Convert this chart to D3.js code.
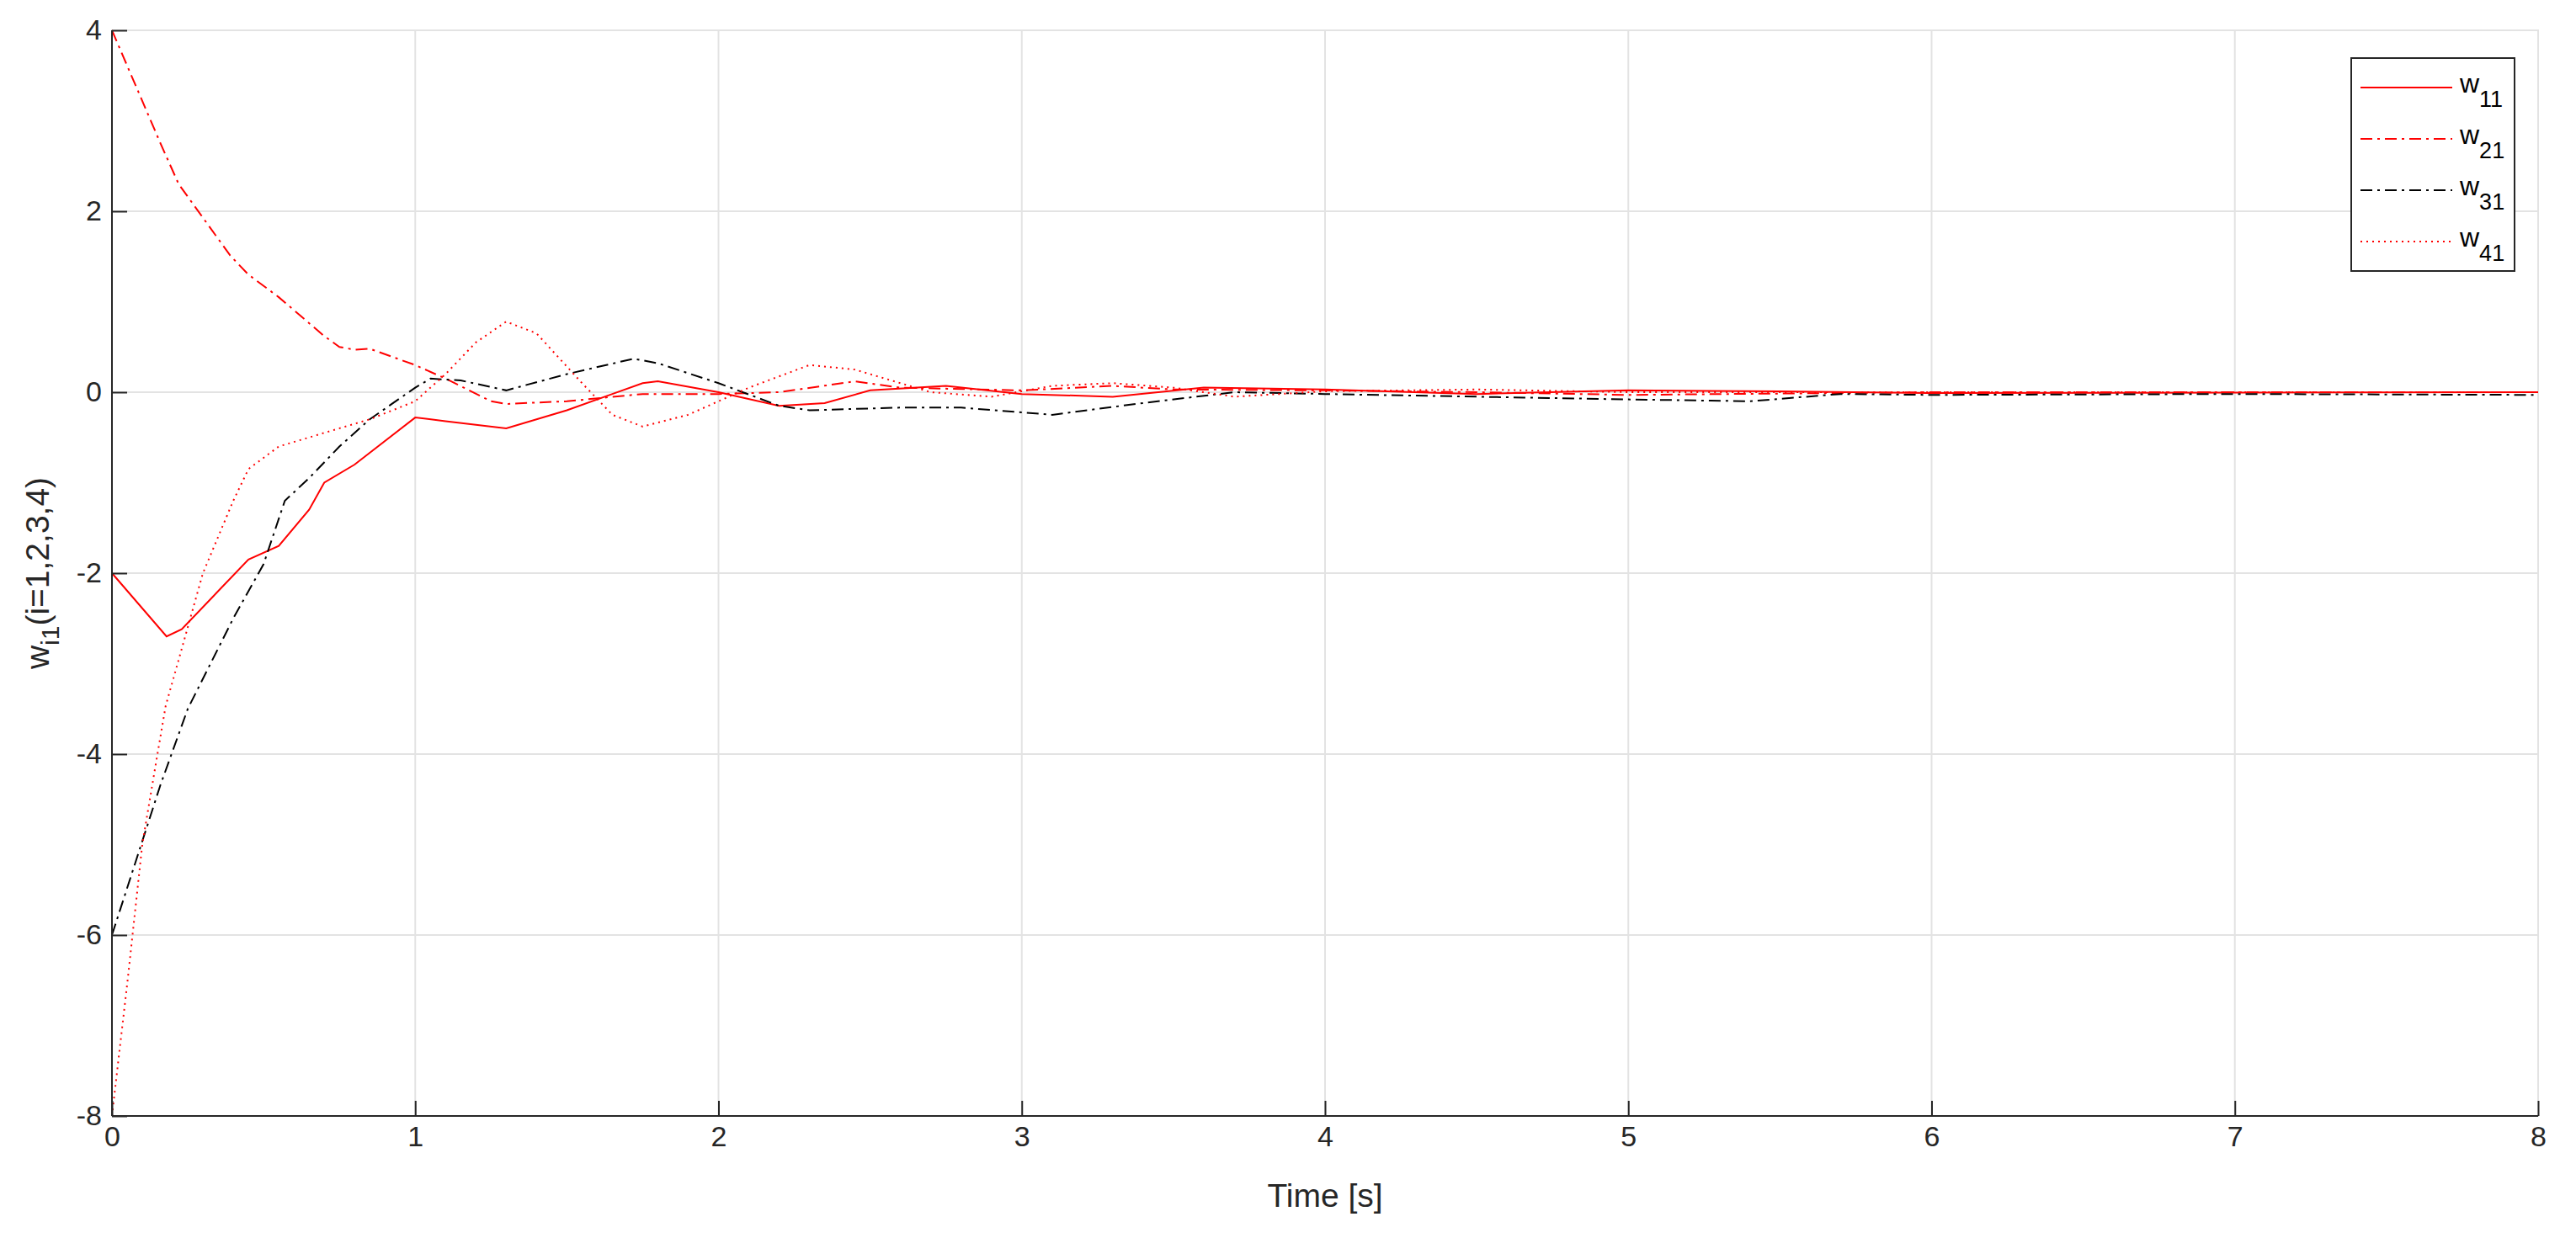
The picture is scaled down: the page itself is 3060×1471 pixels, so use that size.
<!DOCTYPE html>
<html><head><meta charset="utf-8">
<script src="https://cdn.jsdelivr.net/npm/d3@7"></script>
<style>body{margin:0;background:#fff}svg{font-family:"Liberation Sans",Arial,sans-serif}</style>
</head><body>
<script>
const xTicks=[0,1,2,3,4,5,6,7,8];
const yTicks=[-8,-6,-4,-2,0,2,4];
const seriesNames=["11","21","31","41"];
const w11=[[0,-2],[0.18,-2.7],[0.23,-2.62],[0.45,-1.85],[0.55,-1.7],[0.65,-1.3],[0.7,-1.0],[0.8,-0.8],[1.0,-0.28],[1.1,-0.32],[1.3,-0.4],[1.5,-0.2],[1.65,-0.02],[1.75,0.1],[1.8,0.12],[2.0,0],[2.2,-0.15],[2.35,-0.12],[2.5,0.02],[2.75,0.07],[3.0,-0.02],[3.3,-0.05],[3.6,0.05],[4,0.03],[4.5,-0.02],[5,0.02],[5.5,0.01],[6,-0.01],[8,0]];
const w21=[[0,4],[0.16,2.75],[0.22,2.3],[0.39,1.51],[0.45,1.3],[0.55,1.05],[0.7,0.62],[0.75,0.5],[0.8,0.47],[0.85,0.48],[1.0,0.3],[1.1,0.15],[1.25,-0.1],[1.3,-0.13],[1.5,-0.1],[1.75,-0.02],[2.0,-0.02],[2.2,0],[2.45,0.12],[2.6,0.05],[3,0.02],[3.3,0.07],[3.5,0.03],[4,0.02],[4.5,0],[5,-0.03],[6,0],[8,0]];
const w31=[[0,-6],[0.16,-4.34],[0.25,-3.5],[0.4,-2.5],[0.5,-1.9],[0.57,-1.2],[0.65,-0.95],[0.75,-0.6],[0.85,-0.3],[1.0,0.05],[1.05,0.15],[1.15,0.13],[1.3,0.02],[1.5,0.2],[1.72,0.37],[1.8,0.32],[2.0,0.1],[2.2,-0.15],[2.3,-0.2],[2.6,-0.17],[2.8,-0.17],[3.1,-0.25],[3.4,-0.12],[3.7,0],[4,-0.02],[4.5,-0.05],[5.0,-0.08],[5.4,-0.1],[5.7,-0.02],[6,-0.03],[7,-0.02],[8,-0.03]];
const w41=[[0,-8],[0.053,-6.46],[0.1,-5],[0.15,-4],[0.177,-3.47],[0.3,-2],[0.4,-1.2],[0.45,-0.85],[0.55,-0.6],[0.7,-0.45],[0.85,-0.3],[1.0,-0.1],[1.1,0.2],[1.2,0.55],[1.3,0.78],[1.4,0.65],[1.55,0.1],[1.65,-0.25],[1.75,-0.38],[1.9,-0.25],[2.1,0.05],[2.3,0.3],[2.45,0.25],[2.7,0],[2.9,-0.05],[3.1,0.07],[3.3,0.1],[3.5,0.05],[3.7,-0.05],[4,0.01],[4.5,0.03],[5,0],[8,0]];
const series=[{n:"11",d:w11,c:"#f00",dash:null},{n:"21",d:w21,c:"#f00",dash:"14,6,3,6"},{n:"31",d:w31,c:"#000",dash:"14,6,3,6"},{n:"41",d:w41,c:"#f00",dash:"2,5"}];
const W=3060,H=1471,L=133,R=3015,T=36,B=1326;
const svg=d3.select("body").append("svg").attr("width",W).attr("height",H);
const x=d3.scaleLinear().domain([0,8]).range([L,R]);
const y=d3.scaleLinear().domain([-8,4]).range([B,T]);
const g=svg.append("g");
g.selectAll(".gx").data(xTicks).join("line").attr("x1",d=>x(d)).attr("x2",d=>x(d)).attr("y1",T).attr("y2",B).attr("stroke","#e3e3e3").attr("stroke-width",2);
g.selectAll(".gy").data(yTicks).join("line").attr("y1",d=>y(d)).attr("y2",d=>y(d)).attr("x1",L).attr("x2",R).attr("stroke","#e3e3e3").attr("stroke-width",2);
svg.append("rect").attr("x",L).attr("y",T).attr("width",R-L).attr("height",B-T).attr("fill","none").attr("stroke","#e3e3e3").attr("stroke-width",2);
const line=d3.line().x(d=>x(d[0])).y(d=>y(d[1]));
series.forEach(s=>{svg.append("path").attr("d",line(s.d)).attr("fill","none").attr("stroke",s.c).attr("stroke-width",2).attr("stroke-dasharray",s.dash);});
const ax=svg.append("g").attr("transform",`translate(0,${B})`).call(d3.axisBottom(x).tickValues(xTicks).tickSize(-18).tickPadding(12).tickFormat(d3.format("d")));
const ay=svg.append("g").attr("transform",`translate(${L},0)`).call(d3.axisLeft(y).tickValues(yTicks).tickSize(-18).tickPadding(12).tickFormat(d=>d<0?"-"+Math.abs(d):d));
[ax,ay].forEach(a=>{a.selectAll("text").attr("font-size",34).attr("fill","#262626").attr("font-family","Liberation Sans");a.selectAll("line,path").attr("stroke","#262626").attr("stroke-width",2);});
ax.select(".domain").attr("d",`M${L},0H${R}`);
ay.select(".domain").attr("d",`M0,${T}V${B}`);
svg.append("text").attr("x",(L+R)/2).attr("y",1434).attr("text-anchor","middle").attr("font-size",39).attr("fill","#262626").text("Time [s]");
const yl=svg.append("text").attr("transform",`translate(58,${(T+B)/2}) rotate(-90)`).attr("text-anchor","middle").attr("font-size",39).attr("fill","#262626");
yl.append("tspan").text("w");yl.append("tspan").attr("font-size",30).attr("dy",12).text("i1");yl.append("tspan").attr("dy",-12).text("(i=1,2,3,4)");
const lg=svg.append("g");
lg.append("rect").attr("x",2793).attr("y",69).attr("width",194).attr("height",253).attr("fill","#fff").attr("stroke","#262626").attr("stroke-width",2);
series.forEach((s,i)=>{const yy=104+i*61;
lg.append("line").attr("x1",2804).attr("x2",2913).attr("y1",yy).attr("y2",yy).attr("stroke",s.c).attr("stroke-width",2).attr("stroke-dasharray",s.dash);
const t=lg.append("text").attr("x",2922).attr("y",yy+6).attr("font-size",32).attr("fill","#000");
t.append("tspan").text("w");t.append("tspan").attr("font-size",27).attr("dy",17).text(s.n);});
</script>
</body></html>
